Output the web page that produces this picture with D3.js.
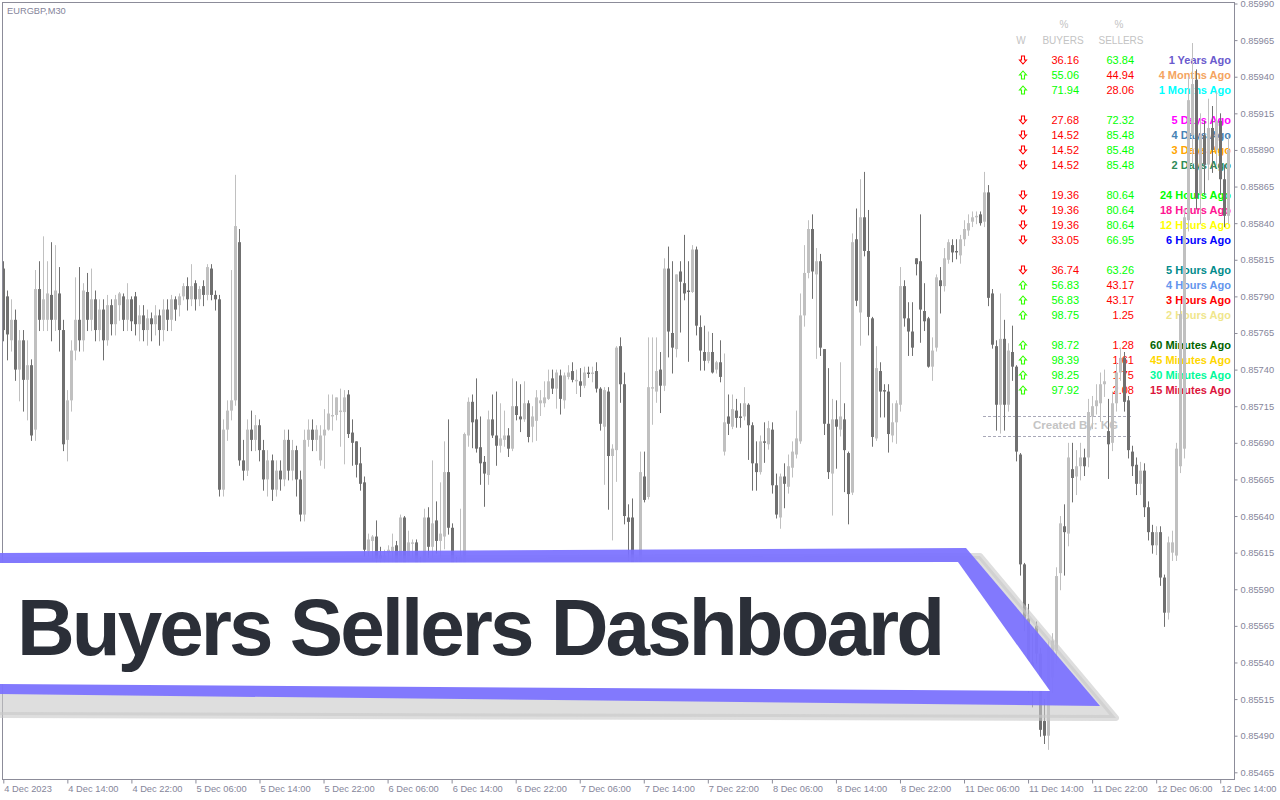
<!DOCTYPE html>
<html><head><meta charset="utf-8">
<script src="https://cdn.jsdelivr.net/npm/d3@7"></script>
<style>body{margin:0;background:#fff;overflow:hidden}svg{display:block}</style>
</head><body>
<svg id="c" width="1280" height="800"></svg>
<script>
// ---------- DATA ----------
const symbolLabel = "EURGBP,M30";
const priceTicks = [0.85465,0.85490,0.85515,0.85540,0.85565,0.85590,0.85615,0.85640,0.85665,0.85690,0.85715,0.85740,0.85765,0.85790,0.85815,0.85840,0.85865,0.85890,0.85915,0.85940,0.85965,0.85990];
const timeLabels = ["4 Dec 2023","4 Dec 14:00","4 Dec 22:00","5 Dec 06:00","5 Dec 14:00","5 Dec 22:00","6 Dec 06:00","6 Dec 14:00","6 Dec 22:00","7 Dec 06:00","7 Dec 14:00","7 Dec 22:00","8 Dec 06:00","8 Dec 14:00","8 Dec 22:00","11 Dec 06:00","11 Dec 14:00","11 Dec 22:00","12 Dec 06:00","12 Dec 14:00"];
const timeLabelBars = [0,16,32,48,64,80,96,112,128,144,160,176,192,208,224,240,256,272,288,304];

// M30 candles, prices x 1e5 (e.g. 85809 = 0.85809)
const opens = [
85809,85790,85760,85774,85740,85760,85733,85743,85699,85795,85774,85774,85791,85774,85792,85767,85692,85719,85753,85774,
85760,85793,85774,85788,85767,85781,85760,85784,85771,85784,85790,85774,85788,85790,85771,85777,85767,85775,85771,85777,
85767,85781,85774,85788,85784,85790,85797,85788,85799,85788,85797,85791,85809,85791,85788,85658,85699,85712,85719,85827,
85678,85671,85699,85692,85702,85685,85665,85678,85658,85671,85665,85692,85671,85685,85665,85641,85692,85699,85692,85678,
85695,85699,85708,85709,85711,85711,85723,85697,85691,85676,85663,85616,85623,85626,85613,85610,85615,85616,85620,85607,
85639,85610,85621,85622,85606,85604,85639,85619,85637,85623,85626,85670,85632,85608,85602,85607,85695,85718,85706,85687,
85677,85668,85706,85695,85688,85692,85695,85686,85715,85708,85706,85717,85701,85705,85717,85717,85720,85734,85727,85736,
85719,85735,85739,85732,85732,85729,85738,85737,85739,85727,85701,85725,85681,85685,85756,85730,85639,85639,85606,85607,
85667,85653,85727,85725,85740,85729,85809,85765,85754,85807,85799,85794,85793,85822,85769,85752,85746,85752,85740,85745,
85684,85708,85701,85712,85708,85708,85716,85702,85676,85670,85691,85689,85699,85661,85639,85667,85660,85673,85682,85691,
85777,85806,85836,85805,85814,85754,85703,85669,85706,85699,85706,85683,85656,85829,85779,85844,85821,85775,85693,85739,
85726,85725,85695,85704,85716,85797,85775,85766,85816,85814,85780,85775,85742,85755,85801,85797,85815,85825,85821,85818,
85829,85835,85841,85844,85846,85841,85861,85792,85756,85716,85761,85716,85752,85742,85682,85607,85570,85540,85565,85546,
85500,85490,85530,85548,85601,85633,85628,85672,85667,85674,85680,85680,85708,85715,85717,85730,85698,85690,85717,85738,
85748,85719,85684,85675,85662,85671,85646,85629,85620,85629,85598,85574,85615,85613,85674,85686,85842,85900,85938,85860,
85900,85880,85905,85890,85910,85870,85845];
const highs = [
85814,85794,85788,85781,85767,85767,85760,85747,85808,85814,85831,85814,85827,85825,85810,85774,85726,85760,85803,85810,
85799,85806,85809,85794,85788,85788,85791,85788,85791,85793,85792,85799,85790,85793,85784,85784,85781,85779,85784,85781,
85788,85788,85791,85790,85792,85799,85803,85812,85801,85797,85801,85812,85812,85794,85791,85706,85719,85808,85873,85836,
85692,85706,85712,85709,85706,85692,85685,85682,85678,85678,85699,85699,85692,85688,85671,85699,85706,85706,85702,85702,
85713,85723,85723,85721,85727,85726,85726,85706,85691,85687,85667,85628,85627,85637,85619,85617,85620,85628,85623,85641,
85640,85630,85624,85624,85612,85645,85646,85678,85650,85663,85691,85706,85635,85612,85645,85697,85721,85723,85734,85708,
85681,85712,85723,85725,85717,85712,85700,85734,85732,85730,85732,85719,85715,85726,85726,85732,85740,85740,85740,85740,
85738,85743,85745,85740,85741,85742,85742,85742,85745,85728,85728,85728,85689,85756,85762,85738,85648,85652,85612,85684,
85684,85762,85762,85762,85752,85816,85824,85814,85805,85814,85832,85814,85825,85824,85777,85770,85766,85765,85746,85760,
85751,85723,85723,85720,85717,85728,85717,85704,85691,85695,85704,85705,85704,85669,85669,85676,85682,85691,85712,85792,
85825,85842,85846,85823,85819,85754,85741,85720,85719,85745,85717,85684,85833,85850,85870,85875,85849,85776,85756,85745,
85730,85730,85717,85719,85810,85801,85786,85786,85816,85846,85799,85776,85762,85805,85810,85823,85829,85829,85829,85832,
85842,85846,85848,85848,85848,85875,85866,85795,85760,85792,85774,85758,85770,85743,85683,85608,85580,85560,85568,85550,
85515,85555,85560,85605,85640,85648,85690,85690,85685,85690,85686,85720,85722,85730,85738,85740,85720,85725,85745,85755,
85752,85722,85688,85680,85677,85676,85650,85634,85633,85633,85600,85626,85630,85690,85785,85850,85940,85963,85945,85915,
85910,85925,85920,85930,85915,85880,85900];
const lows = [
85760,85747,85753,85733,85719,85712,85706,85692,85692,85767,85767,85767,85760,85767,85753,85685,85678,85712,85747,85753,
85753,85767,85767,85760,85760,85747,85757,85764,85764,85774,85767,85767,85767,85764,85760,85760,85757,85760,85764,85757,
85760,85767,85767,85774,85777,85788,85781,85784,85781,85784,85784,85788,85788,85781,85654,85654,85692,85706,85716,85675,
85665,85668,85685,85685,85678,85658,85654,85651,85654,85658,85661,85665,85665,85654,85637,85637,85688,85685,85685,85675,
85673,85699,85699,85706,85688,85676,85694,85675,85667,85658,85613,85613,85610,85608,85604,85605,85606,85605,85600,85603,
85602,85605,85612,85600,85598,85600,85612,85612,85615,85612,85618,85628,85604,85598,85596,85602,85688,85687,85684,85662,
85647,85662,85694,85675,85684,85688,85681,85685,85706,85698,85705,85691,85691,85692,85709,85715,85720,85724,85714,85710,
85714,85734,85732,85724,85722,85728,85735,85732,85725,85699,85662,85645,85624,85664,85718,85635,85610,85600,85598,85600,
85650,85652,85703,85718,85711,85726,85749,85738,85749,85766,85788,85746,85793,85764,85740,85740,85745,85738,85738,85732,
85682,85696,85700,85701,85701,85706,85679,85658,85658,85669,85677,85686,85656,85639,85632,85646,85656,85667,85680,85690,
85770,85803,85789,85748,85750,85696,85666,85641,85673,85695,85657,85635,85655,85784,85757,85818,85764,85688,85692,85708,
85708,85684,85691,85690,85712,85770,85750,85750,85805,85759,85767,85742,85733,85753,85779,85794,85813,85814,85816,85813,
85825,85832,85838,85840,85839,85838,85784,85755,85699,85697,85699,85712,85733,85678,85600,85562,85520,85510,85540,85490,
85485,85481,85520,85540,85590,85600,85620,85650,85655,85665,85668,85674,85700,85710,85705,85722,85666,85685,85712,85733,
85712,85680,85668,85655,85655,85640,85624,85615,85614,85593,85565,85570,85610,85610,85670,85680,85835,85880,85850,85840,
85860,85870,85875,85880,85860,85838,85840];
const closes = [
85767,85764,85774,85740,85760,85733,85743,85695,85795,85774,85788,85792,85774,85794,85767,85689,85719,85753,85774,85760,
85794,85774,85788,85767,85781,85760,85784,85771,85788,85792,85774,85788,85773,85771,85777,85767,85775,85771,85777,85767,
85781,85774,85788,85781,85790,85797,85788,85797,85788,85795,85791,85810,85791,85788,85658,85699,85712,85719,85838,85678,
85671,85699,85692,85702,85685,85665,85678,85658,85671,85665,85692,85671,85685,85665,85641,85692,85699,85692,85699,85695,
85699,85710,85709,85721,85712,85721,85696,85690,85675,85662,85617,85624,85626,85611,85611,85613,85617,85619,85607,85639,
85606,85622,85622,85606,85604,85639,85619,85635,85623,85628,85670,85632,85608,85602,85612,85696,85718,85704,85686,85676,
85669,85706,85695,85688,85693,85695,85686,85715,85709,85706,85717,85694,85708,85721,85719,85721,85732,85727,85738,85720,
85736,85738,85733,85733,85729,85738,85737,85738,85727,85703,85726,85681,85686,85755,85730,85640,85636,85606,85610,85670,
85651,85728,85728,85739,85729,85809,85766,85755,85805,85800,85792,85793,85822,85770,85753,85746,85752,85738,85745,85735,
85704,85703,85713,85707,85707,85717,85702,85676,85670,85691,85690,85700,85661,85641,85667,85662,85674,85684,85693,85777,
85806,85836,85807,85814,85755,85703,85670,85706,85701,85708,85685,85655,85827,85787,85844,85821,85776,85694,85741,85725,
85725,85696,85704,85717,85797,85775,85766,85755,85812,85781,85773,85742,85753,85803,85797,85816,85827,85820,85820,85829,
85836,85840,85844,85845,85840,85861,85789,85757,85716,85761,85716,85753,85742,85684,85607,85570,85540,85525,85546,85494,
85490,85550,85555,85599,85635,85629,85680,85666,85674,85680,85674,85711,85715,85719,85730,85732,85689,85717,85738,85748,
85718,85685,85674,85662,85671,85646,85629,85620,85629,85598,85574,85622,85622,85686,85778,85844,85924,85935,85857,85900,
85880,85905,85890,85910,85870,85845,85890];

// Dashboard
const periodLabels = ["1 Years Ago","4 Months Ago","1 Months Ago","5 Days Ago","4 Days Ago","3 Days Ago","2 Days Ago","24 Hours Ago","18 Hours Ago","12 Hours Ago","6 Hours Ago","5 Hours Ago","4 Hours Ago","3 Hours Ago","2 Hours Ago","60 Minutes Ago","45 Minutes Ago","30 Minutes Ago","15 Minutes Ago"];
const periodGroups = [0,0,0,1,1,1,1,2,2,2,2,3,3,3,3,4,4,4,4];
const buyersPct = [36.16,55.06,71.94,27.68,14.52,14.52,14.52,19.36,19.36,19.36,33.05,36.74,56.83,56.83,98.75,98.72,98.39,98.25,97.92];
const sellersPct = [63.84,44.94,28.06,72.32,85.48,85.48,85.48,80.64,80.64,80.64,66.95,63.26,43.17,43.17,1.25,1.28,1.61,1.75,2.08];
const periodColors = ["#6a5acd","#f4a460","#00ffff","#ff00ff","#4682b4","#ffa500","#2e8b57","#00ff00","#ff1493","#ffff00","#0000ff","#008b8b","#6495ed","#ff0000","#f0e68c","#006400","#ffd700","#00fa9a","#dc143c"];
const titleText = "Buyers Sellers Dashboard";
const creditText = "Created By: KG";

// ---------- DRAW ----------
const svg = d3.select("#c");
const P = v => v / 100000;
const nBars = opens.length;
const x = d3.scaleLinear().domain([0, 306]).range([3.3, 3.3 + 306 * 4.003]);
const y = d3.scaleLinear().domain([0.85465, 0.85990]).range([772.3, 3.5]);
const axisFont = "'Liberation Sans', Arial, sans-serif";
const axisColor = "#85859a";
const frameColor = "#8c8c99";

svg.append("rect").attr("width",1280).attr("height",800).attr("fill","#fff");

// dashboard (drawn behind the candles)
const dash = svg.append("g").attr("font-family","'Liberation Sans', Arial, sans-serif");
const hdr = dash.append("g").attr("fill","#c3c3c3").attr("font-size","10px").attr("text-anchor","middle");
hdr.append("text").attr("x",1064).attr("y",28).text("%");
hdr.append("text").attr("x",1119).attr("y",28).text("%");
hdr.append("text").attr("x",1021).attr("y",43.5).text("W");
hdr.append("text").attr("x",1063).attr("y",43.5).text("BUYERS");
hdr.append("text").attr("x",1121).attr("y",43.5).text("SELLERS");
const rowY = i => 64 + 15 * i + 15 * periodGroups[i];
// hollow arrow glyph path (up or down), centred at cx, spanning top..top+8
function arrowPath(cx, top, up) {
  const p = up
    ? [[cx,top],[cx+3.5,top+4],[cx+1.5,top+4],[cx+1.5,top+8],[cx-1.5,top+8],[cx-1.5,top+4],[cx-3.5,top+4]]
    : [[cx-1.5,top],[cx+1.5,top],[cx+1.5,top+4],[cx+3.5,top+4],[cx,top+8],[cx-3.5,top+4],[cx-1.5,top+4]];
  return d3.line()(p) + "Z";
}
const rows = dash.selectAll("g.row").data(periodLabels).join("g").attr("class","row");
rows.append("path").attr("d",(d,i)=>arrowPath(1023, rowY(i)-8, buyersPct[i] >= 50))
  .attr("fill","#fff").attr("stroke",(d,i)=>buyersPct[i] >= 50 ? "#33ff00" : "#ff0000").attr("stroke-width",1.1);
rows.append("text").attr("x",1079).attr("y",(d,i)=>rowY(i)).attr("text-anchor","end").attr("font-size","11px")
  .attr("fill",(d,i)=>buyersPct[i] >= 50 ? "#00ff00" : "#ff0000").text((d,i)=>buyersPct[i].toFixed(2));
rows.append("text").attr("x",1134).attr("y",(d,i)=>rowY(i)).attr("text-anchor","end").attr("font-size","11px")
  .attr("fill",(d,i)=>sellersPct[i] > 50 ? "#00ff00" : "#ff0000").text((d,i)=>sellersPct[i].toFixed(2));
rows.append("text").attr("x",1231).attr("y",(d,i)=>rowY(i)).attr("text-anchor","end").attr("font-size","11px")
  .attr("font-weight","bold").attr("fill",(d,i)=>periodColors[i]).text(d=>d);
// credit box
dash.append("line").attr("x1",983).attr("x2",1131).attr("y1",416.5).attr("y2",416.5).attr("stroke","#a8a8b8").attr("stroke-dasharray","3,2");
dash.append("line").attr("x1",983).attr("x2",1131).attr("y1",436.5).attr("y2",436.5).attr("stroke","#a8a8b8").attr("stroke-dasharray","3,2");
dash.append("text").attr("x",1033).attr("y",429).attr("font-size","11.5px").attr("font-weight","bold").attr("fill","#c4c4c4").text(creditText);

// candles
const plot = svg.append("g");
const bull = i => closes[i] >= opens[i];
const bars = d3.range(nBars);
plot.selectAll("line.w").data(bars).join("line").attr("class","w")
  .attr("x1",i=>Math.round(x(i))+0.5).attr("x2",i=>Math.round(x(i))+0.5)
  .attr("y1",i=>y(P(highs[i]))).attr("y2",i=>y(P(lows[i]))+1)
  .attr("stroke",i=>bull(i)?"#c0c0c0":"#707070").attr("stroke-width",1);
plot.selectAll("rect.b").data(bars).join("rect").attr("class","b")
  .attr("x",i=>Math.round(x(i))-1).attr("width",3)
  .attr("y",i=>y(P(Math.max(opens[i],closes[i]))))
  .attr("height",i=>Math.max(1,Math.abs(y(P(opens[i]))-y(P(closes[i])))))
  .attr("fill",i=>bull(i)?"#c0c0c0":"#707070");

// frame
svg.append("rect").attr("x",2.5).attr("y",2.5).attr("width",1232).attr("height",777)
  .attr("fill","none").attr("stroke",frameColor);

// y axis (right)
const yAxis = d3.axisRight(y).tickValues(priceTicks).tickFormat(d3.format(".5f")).tickSize(3).tickPadding(3);
const gy = svg.append("g").attr("transform","translate(1234.5,0)").call(yAxis);
gy.select(".domain").remove();
gy.selectAll(".tick line").attr("stroke",frameColor);
gy.selectAll(".tick text").attr("fill",axisColor).attr("font-family",axisFont).attr("font-size","9.3px");

// x axis (bottom)
const xAxis = d3.axisBottom(x).tickValues(timeLabelBars).tickFormat((d,i)=>timeLabels[i]).tickSize(4).tickPadding(2);
const gx = svg.append("g").attr("transform","translate(0,779.5)").call(xAxis);
gx.select(".domain").remove();
gx.selectAll(".tick line").attr("stroke",frameColor);
gx.selectAll(".tick text").attr("fill",axisColor).attr("font-family",axisFont).attr("font-size","9.3px")
  .attr("text-anchor","start").attr("dx","0.5");

svg.append("text").attr("x",7).attr("y",14).attr("fill",axisColor).attr("font-family",axisFont)
  .attr("font-size","9.3px").text(symbolLabel);

// banner overlay
const banner = svg.append("g");
const line = d3.line();
banner.append("path").attr("d",line([[-10,560],[980,556],[1116,718],[-10,715]])+"Z")
  .attr("fill","#c8c8c8").attr("fill-opacity",0.6).attr("stroke","#c8c8c8").attr("stroke-opacity",0.6)
  .attr("stroke-width",6).attr("stroke-linejoin","round");
banner.append("path").attr("d",line([[-10,553],[966,548],[1100,706],[-10,694]])+"Z")
  .attr("fill","#7a70ff").attr("fill-opacity",0.92);
banner.append("path").attr("d",line([[-10,563],[958,562],[1050,691],[-10,684]])+"Z")
  .attr("fill","#ffffff");
banner.append("text").attr("x",17).attr("y",655).attr("font-family","'Liberation Sans', Arial, sans-serif")
  .attr("font-weight","bold").attr("font-size","80px").attr("fill","#2b2f38")
  .attr("textLength",928).attr("lengthAdjust","spacing").text(titleText);
</script>
</body></html>
